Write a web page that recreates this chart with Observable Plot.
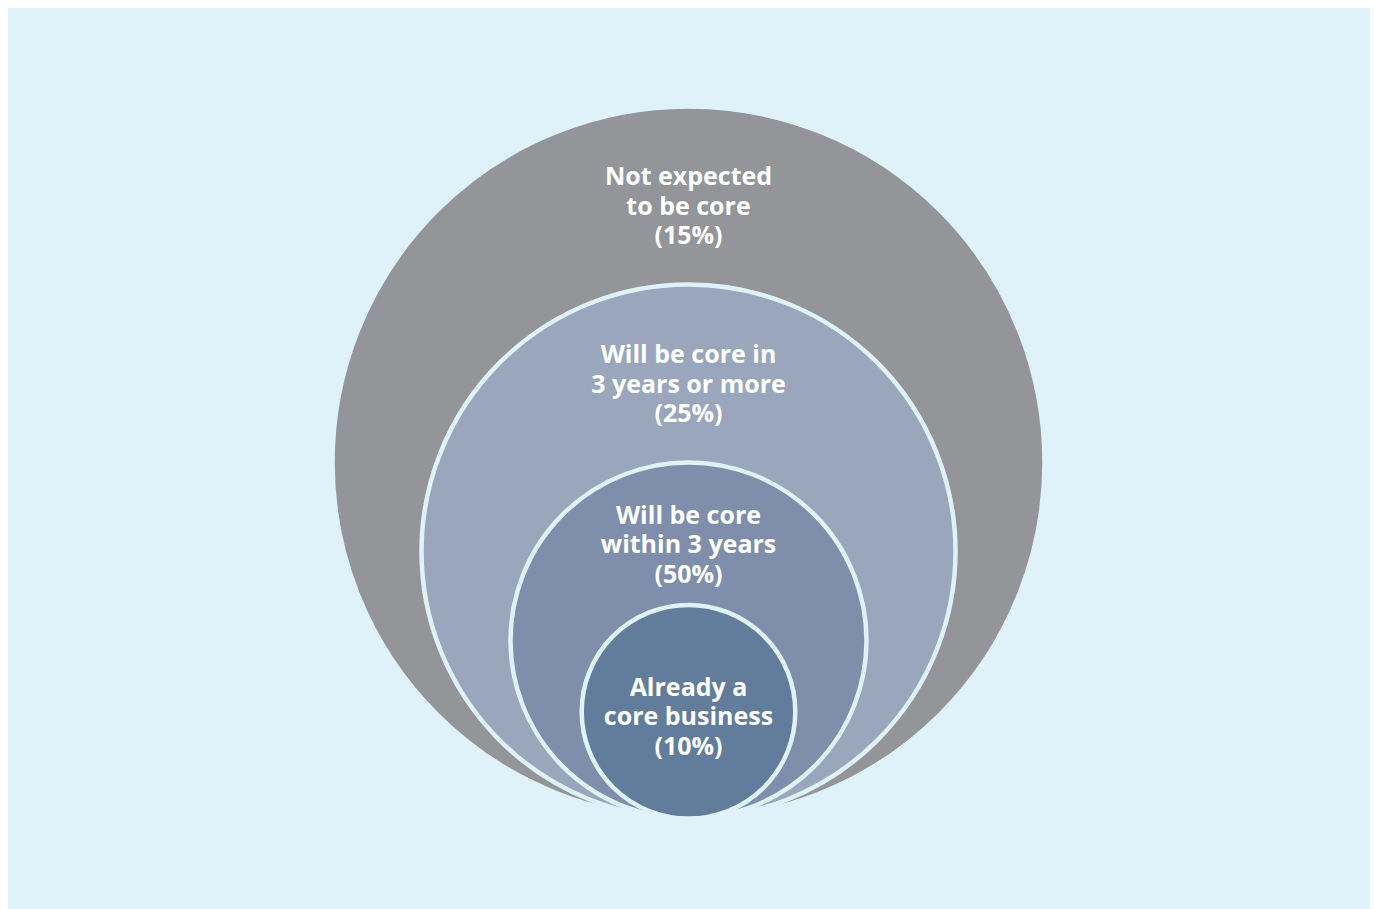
<!DOCTYPE html>
<html>
<head>
<meta charset="utf-8">
<script src="https://cdn.jsdelivr.net/npm/d3@7"></script>
<script src="https://cdn.jsdelivr.net/npm/@observablehq/plot@0.6"></script>
<style>
  html, body { margin: 0; padding: 0; background: #ffffff; }
  #chart { position: absolute; left: 8px; top: 8px; width: 1362px; height: 901px; }
  #chart svg { display: block; }
</style>
</head>
<body>
<div id="chart"></div>
<script>
// ---- data ----
const categories = [
  "Not expected to be core",
  "Will be core in 3 years or more",
  "Will be core within 3 years",
  "Already a core business"
];
const labelLines = [
  ["Not expected", "to be core"],
  ["Will be core in", "3 years or more"],
  ["Will be core", "within 3 years"],
  ["Already a", "core business"]
];
const shares = [15, 25, 50, 10];
// relative circle size (outer circle = 1)
const circleSize = [1, 0.75, 0.5, 0.3];
const colors = ["#939598", "#99a6bc", "#7f8fab", "#627c9b"];

// ---- build table ----
const rows = categories.map((c, i) => ({
  category: c,
  size: circleSize[i],
  next: i + 1 < circleSize.length ? circleSize[i + 1] : 0,
  inner: i === circleSize.length - 1,
  label: labelLines[i].join("\n") + "\n(" + shares[i] + "%)"
}));

const W = 1362, H = 901;
const unit = 356;      // px per size unit
const cx = 680;        // horizontal centre within svg
const base = 810;      // common tangent point (bottom) within svg
const bg = "#dff2fa";

const textOpts = {
  x: () => 0,
  y: d => d.size + d.next,
  text: "label",
  fill: "#ffffff",
  fontSize: 25,
  fontWeight: "bold",
  fontFamily: "Open Sans, Noto Sans, sans-serif",
  lineHeight: 1.18,
  lineAnchor: "middle",
  textAnchor: "middle"
};

const chart = Plot.plot({
  width: W,
  height: H,
  margin: 0,
  style: { background: bg, overflow: "visible" },
  x: { domain: [-cx / unit, (W - cx) / unit], range: [0, W], axis: null },
  y: { domain: [(base - H) / unit, base / unit], range: [H, 0], axis: null },
  r: { type: "linear", domain: [0, 1], range: [0, unit] },
  color: { domain: categories, range: colors },
  marks: [
    Plot.dot(rows, {
      x: () => 0,
      y: "size",
      r: "size",
      fill: "category",
      stroke: bg,
      strokeWidth: 4.5,
      fillOpacity: 1,
      sort: null
    }),
    Plot.text(rows.filter(d => !d.inner), { ...textOpts, dy: 10 }),
    Plot.text(rows.filter(d => d.inner), { ...textOpts, dy: 4 })
  ]
});
document.getElementById("chart").appendChild(chart);
</script>
</body>
</html>
